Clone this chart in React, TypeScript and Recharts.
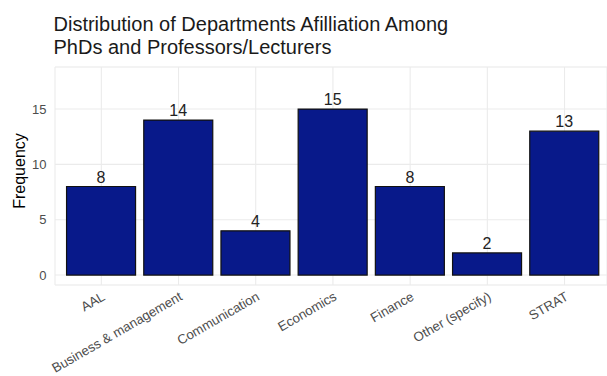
import {
	BarChart,
	Bar,
	XAxis,
	YAxis,
	CartesianGrid,
	LabelList,
} from 'recharts';

const departments = [
	'AAL',
	'Business & management',
	'Communication',
	'Economics',
	'Finance',
	'Other (specify)',
	'STRAT',
];
const frequency = [8, 14, 4, 15, 8, 2, 13];
const yTicks = [0, 5, 10, 15];
const yMinor = [2.5, 7.5, 12.5, 17.5];
const yDomain = [-0.9, 18.8];

// category index, used only by a hidden axis that places the vertical grid on bar centres
const data = departments.map((department, i) => ({
	department,
	pos: i,
	frequency: frequency[i],
}));

const font = "'Liberation Sans', Arial, sans-serif";

const App = () => {
	return (
		<div style={{ position: 'absolute', left: 0, top: 0, width: 607, height: 376, fontFamily: font }}>
			<div
				style={{
					position: 'absolute',
					left: 53.5,
					top: 13,
					fontSize: 20,
					lineHeight: '23px',
					color: '#1a1a1a',
				}}
			>
				Distribution of Departments Afilliation Among
				<br />
				PhDs and Professors/Lecturers
			</div>
			<BarChart
				width={607}
				height={376}
				data={data}
				margin={{ top: 67, right: 0, left: 12, bottom: 61 }}
				barCategoryGap='5%'
			>
				<CartesianGrid yAxisId='minor' stroke='#f2f2f2' strokeWidth={0.8} vertical={false} />
				<CartesianGrid stroke='#ebebeb' strokeWidth={1.1} vertical={false} />
				<CartesianGrid xAxisId='grid' stroke='#ebebeb' strokeWidth={1.1} horizontal={false} />
				<XAxis
					dataKey='department'
					interval={0}
					axisLine={false}
					tickLine={false}
					tickSize={0}
					tickMargin={6}
					padding={{ left: 7.7, right: 3.9 }}
					angle={-30}
					textAnchor='end'
					tick={{ fill: '#4d4d4d', fontSize: 13.3, fontFamily: font }}
				/>
				<XAxis
					xAxisId='grid'
					dataKey='pos'
					type='number'
					hide
					domain={[-0.6, 6.55]}
					ticks={data.map((d) => d.pos)}
				/>
				<YAxis yAxisId='minor' hide domain={yDomain} ticks={yMinor} />
				<YAxis
					width={43}
					domain={yDomain}
					ticks={yTicks}
					axisLine={false}
					tickLine={false}
					tickSize={0}
					tickMargin={8.5}
					tick={{ fill: '#4d4d4d', fontSize: 13, fontFamily: font }}
					label={{
						value: 'Frequency',
						angle: -90,
						position: 'insideLeft',
						offset: 7.5,
						dy: -5,
						style: { textAnchor: 'middle', fill: '#000', fontSize: 16, fontFamily: font },
					}}
				/>
				<Bar dataKey='frequency' fill='#08198a' stroke='#111' strokeWidth={1.2} isAnimationActive={false}>
					<LabelList
						dataKey='frequency'
						position='top'
						offset={4}
						fill='#222'
						fontSize={16}
						fontFamily={font}
					/>
				</Bar>
			</BarChart>
		</div>
	);
};

export default App;
